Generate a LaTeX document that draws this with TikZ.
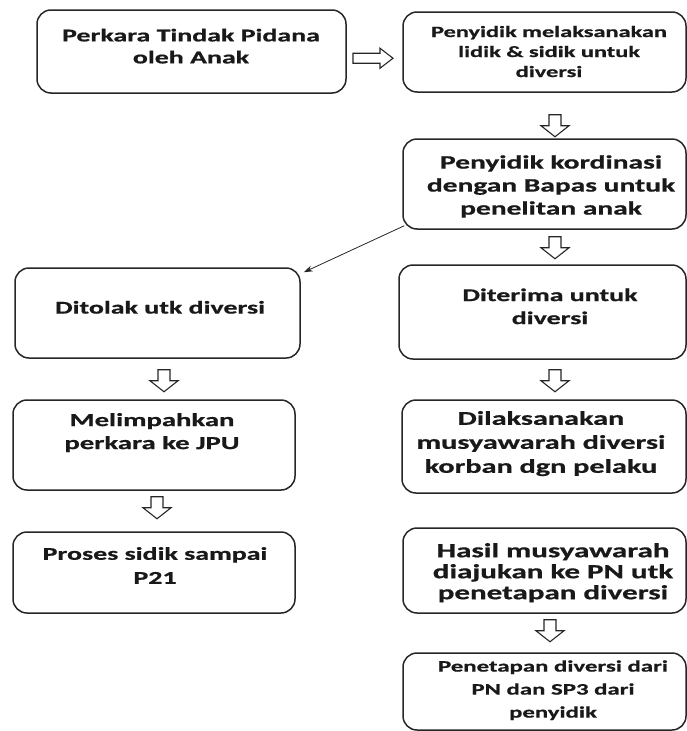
\documentclass[tikz,border=0pt]{standalone}
\usepackage{fontspec}
\usepackage{graphicx}
\newfontfamily\lbl{Carlito}[FakeBold=0.6]
\newcommand\boxtext[3]{\scalebox{1.55}[1]{\lbl\bfseries\fontsize{#1}{#2}\selectfont\begin{tabular}{@{}c@{}}#3\end{tabular}}}
\usetikzlibrary{calc,arrows.meta}
\begin{document}
\begin{tikzpicture}[x=1pt,y=-1pt,
  box/.style={draw=black!85, line width=1.5pt, rounded corners=14pt, inner sep=0pt},
  txt/.style={inner sep=0pt, text=black!90},
  blk/.style={draw=black!85, line width=1.1pt, fill=white, line join=miter},
  pics/darr/.style={code={\draw[blk] (-6,0) -- (-6,11) -- (-14,11) -- (0,22) -- (14,11) -- (6,11) -- (6,0) -- cycle;}},
  pics/rarr/.style={code={\draw[blk] (-20,-5) -- (7,-5) -- (7,-10) -- (20,0) -- (7,10) -- (7,5) -- (-20,5) -- cycle;}},
]
\useasboundingbox (0,0) rectangle (687,731);
\node[box, minimum width=309pt, minimum height=83pt] (b1) at (191.5,51.5) {};
\node[box, minimum width=283pt, minimum height=80pt] (b2) at (544.5,52) {};
\node[box, minimum width=283pt, minimum height=90pt] (b3) at (544.5,184) {};
\node[box, minimum width=285pt, minimum height=90pt] (b4) at (157.5,313) {};
\node[box, minimum width=287pt, minimum height=94pt] (b5) at (542.5,312) {};
\node[box, minimum width=282pt, minimum height=90pt] (b6) at (154,445) {};
\node[box, minimum width=284pt, minimum height=93pt] (b7) at (544,446.5) {};
\node[box, minimum width=282pt, minimum height=81pt] (b8) at (154,572.5) {};
\node[box, minimum width=283pt, minimum height=85pt] (b9) at (544.5,570.5) {};
\node[box, minimum width=283pt, minimum height=77pt] (b10) at (544.5,691.5) {};

\node[txt] (t1) at (191,48) {\boxtext{18}{22}{Perkara Tindak Pidana\\oleh Anak}};
\node[txt] (t2) at (549,53) {\boxtext{15.7}{20}{Penyidik melaksanakan\\lidik \& sidik untuk\\diversi}};
\node[txt] (t3) at (551,187) {\boxtext{19}{23}{Penyidik kordinasi\\dengan Bapas untuk\\penelitan anak}};
\node[txt] (t4) at (160,309) {\boxtext{18}{23}{Ditolak utk diversi}};
\node[txt] (t5) at (550,308) {\boxtext{18}{23}{Diterima untuk\\diversi}};
\node[txt] (t6) at (152,433) {\boxtext{18.5}{23}{Melimpahkan\\perkara ke JPU}};
\node[txt] (t7) at (541,444) {\boxtext{19.5}{24}{Dilaksanakan\\musyawarah diversi\\korban dgn pelaku}};
\node[txt] (t8) at (155,567) {\boxtext{18}{24}{Proses sidik sampai\\P21}};
\node[txt] (t9) at (553,574) {\boxtext{20}{21}{Hasil musyawarah\\diajukan ke PN utk\\penetapan diversi}};
\node[txt] (t10) at (553,690) {\boxtext{16}{23}{Penetapan diversi dari\\PN dan SP3 dari\\penyidik}};

\pic at ($(b1.east)!0.5!(b2.west)+(-1.5,6.5)$) {rarr};
\pic at ($(b2.south)+(10.5,22)$) {darr};
\pic at ($(b3.south)+(10.5,7)$) {darr};
\pic at ($(b4.south)+(6.5,11)$) {darr};
\pic at ($(b5.south)+(12.5,10)$) {darr};
\pic at ($(b6.south)+(3,6)$) {darr};
\pic at ($(b9.south)+(5.5,6)$) {darr};

\draw[-{Stealth[length=9pt,width=6pt]}, line width=0.8pt, black!85] ($(b3.south west)+(2,-4)$) -- ($(b4.north east)+(3,5)$);
\end{tikzpicture}
\end{document}
